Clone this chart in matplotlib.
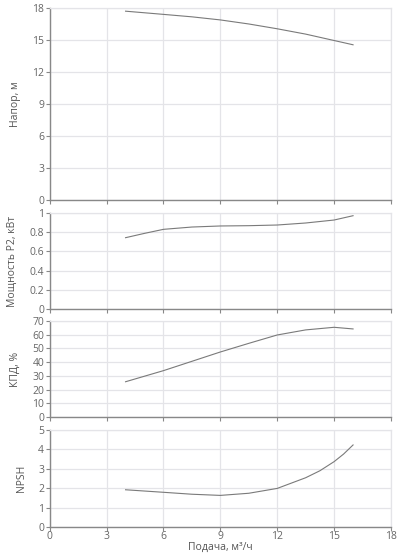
import matplotlib
matplotlib.use("Agg")
import matplotlib.pyplot as plt

# Data
head_q = [4, 6, 7.5, 9, 10.5, 12, 13.5, 15, 16]
head_h = [17.7, 17.4, 17.17, 16.88, 16.5, 16.05, 15.55, 14.95, 14.55]

power_q = [4, 5, 6, 7.5, 9, 10.5, 12, 13.5, 15, 16]
power_p = [0.743, 0.788, 0.83, 0.854, 0.865, 0.868, 0.875, 0.896, 0.927, 0.972]

eff_q = [4, 6, 7.5, 9, 10.5, 12, 13.5, 15, 16]
eff_v = [25.7, 33.8, 40.6, 47.4, 53.7, 59.8, 63.5, 65.4, 64.2]

npsh_q = [4, 6, 7.5, 9, 10.5, 12, 13.5, 14.25, 15, 15.5, 16]
npsh_v = [1.92, 1.79, 1.69, 1.63, 1.74, 1.99, 2.54, 2.9, 3.37, 3.76, 4.23]

x_ticks = [0, 3, 6, 9, 12, 15, 18]

panels = [
    (head_q, head_h, "Напор, м", [0, 3, 6, 9, 12, 15, 18], None),
    (power_q, power_p, "Мощность P2, кВт", [0, 0.2, 0.4, 0.6, 0.8, 1], ["0", "0.2", "0.4", "0.6", "0.8", "1"]),
    (eff_q, eff_v, "КПД, %", [0, 10, 20, 30, 40, 50, 60, 70], None),
    (npsh_q, npsh_v, "NPSH", [0, 1, 2, 3, 4, 5], None),
]

# axes boxes in figure fractions: (bottom, top)
boxes = [(0.639, 0.9856), (0.4422, 0.6155), (0.2473, 0.4206), (0.0487, 0.2238)]

plt.rcParams['font.family'] = ['Open Sans', 'DejaVu Sans']
fig = plt.figure(figsize=(4.01, 5.54), dpi=100)

for i, ((q, v, label, yt, ytl), (b, t)) in enumerate(zip(panels, boxes)):
    ax = fig.add_axes([0.124, b, 0.975 - 0.124, t - b])
    ax.plot(q, v, color="#7a7a7a", lw=0.8)
    ax.set_xlim(0, 18)
    ax.set_ylim(yt[0], yt[-1])
    ax.set_xticks(x_ticks)
    ax.set_yticks(yt)
    if ytl:
        ax.set_yticklabels(ytl)
    ax.grid(True, color="#e4e4e8", lw=0.9)
    ax.set_axisbelow(True)
    for s in ["top", "right"]:
        ax.spines[s].set_color("#e4e4e8")
        ax.spines[s].set_linewidth(0.9)
    for s in ["left", "bottom"]:
        ax.spines[s].set_color("#888888")
        ax.spines[s].set_linewidth(1.0)
    ax.tick_params(axis="both", colors="#888888", labelcolor="#666666",
                   labelsize=7.5, length=3, width=0.8, pad=1)
    ax.tick_params(axis="x", pad=0)
    ax.set_ylabel(label, fontsize=7.5, color="#555555", labelpad=8)
    if i < 3:
        ax.tick_params(axis="x", labelbottom=False)
    else:
        ax.set_xlabel("Подача, м³/ч", fontsize=7.5, color="#555555", labelpad=0)

fig.savefig("out.png", dpi=100)
